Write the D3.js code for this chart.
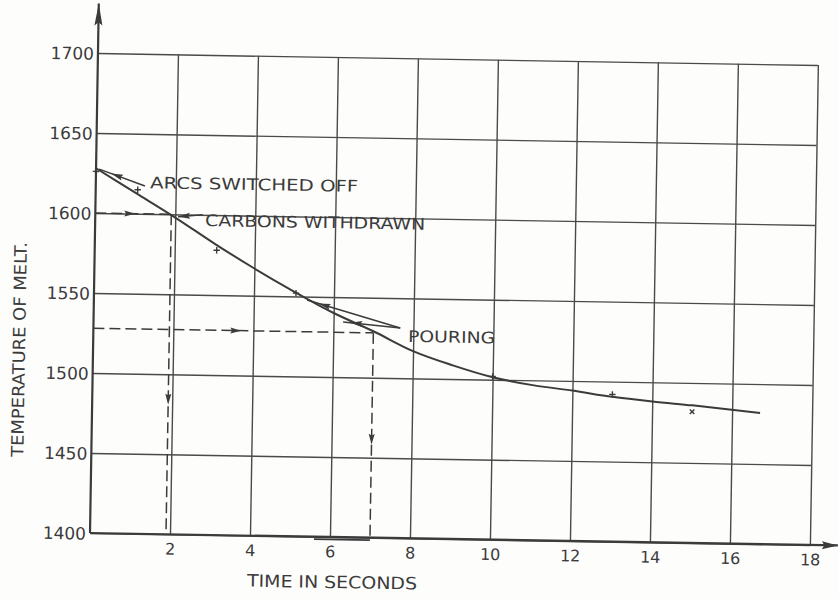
<!DOCTYPE html>
<html><head><meta charset="utf-8">
<script src="https://cdn.jsdelivr.net/npm/d3@7"></script>
<style>html,body{margin:0;padding:0;background:#fdfdfc;} svg{display:block}</style>
</head><body><svg id="c" width="839" height="599"></svg>
<script>
// ---- data ----
const curveTime = [0, 1, 2, 3, 4, 5, 6, 7, 8, 9, 10, 11, 12, 13, 14, 15, 16.7];
const curveTemp = [1628, 1613, 1598, 1582, 1567, 1553, 1540, 1529, 1517, 1508.5, 1501.5, 1497, 1494, 1490.5, 1488, 1486, 1482];
const obsTime = [0, 1.05, 3.05, 5.05, 10, 13, 15];
const obsTemp = [1626, 1615, 1578, 1552, 1502, 1492, 1482];
const obsMark = ["+", "+", "+", "+", "+", "+", "x"];
const xTicks = [2, 4, 6, 8, 10, 12, 14, 16, 18];
const yTicks = [1400, 1450, 1500, 1550, 1600, 1650, 1700];
const xTitle = "TIME IN SECONDS";
const yTitle = "TEMPERATURE OF MELT.";
const noteText = ["ARCS SWITCHED OFF", "CARBONS WITHDRAWN", "POURING"];
const noteTime = [1.36, 2.75, 7.87];
const noteTemp = [1616, 1593, 1522.7];
// dashed read-off guides: horizontal at temp up to time, then vertical down
const guideTemp = [1600, 1528];
const guideTime = [1.9, 7];
// annotation arrows
const arrowFromTime = [1.23, 2.69, 7.67, 7.67];
const arrowFromTemp = [1617.4, 1600, 1531.3, 1531.3];
const arrowToTime = [0.08, 2.07, 5.33, 6.24];
const arrowToTemp = [1627.5, 1598.5, 1547.9, 1534.5];
const arrowTipTime = [0.38, 2.07, 5.62, 6.42];

// ---- layout ----
const W = 720, H = 480;
const svg = d3.select("#c");
const ink = "#3b3b3b";
const g = svg.append("g").attr("transform", "translate(90,533) rotate(0.95)");
const x = d3.scaleLinear().domain([0, 18]).range([0, W]);
const y = d3.scaleLinear().domain([1400, 1700]).range([0, -H]);
const font = "DejaVu Sans, Verdana, sans-serif";

function head(px, py, ang, len, hw) {
  const c = Math.cos(ang), s = Math.sin(ang);
  const bx = px - len * c, by = py - len * s;
  const p = [[px, py], [bx - hw * s, by + hw * c], [bx + len*0.15*c, by + len*0.15*s], [bx + hw * s, by - hw * c]];
  g.append("path").attr("d", "M" + p.map(d => d.join(",")).join("L") + "Z").attr("fill", ink);
}

// grid via axes
const yAxis = d3.axisLeft(y).tickValues(yTicks).tickFormat(d3.format("d")).tickSize(-W).tickPadding(4);
const yG = g.append("g").call(yAxis);
yG.select(".domain").remove();
yG.selectAll(".tick line").attr("stroke", "#4a4a4a").attr("stroke-width", 1.4);
yG.selectAll(".tick text").attr("font-family", font).attr("font-size", 17).attr("fill", ink).attr("dy", "0.36em");

const xAxis = d3.axisBottom(x).tickValues(xTicks).tickSize(-H).tickPadding(9);
const xG = g.append("g").call(xAxis);
xG.select(".domain").remove();
xG.selectAll(".tick line").attr("stroke", "#4a4a4a").attr("stroke-width", 1.4);
xG.selectAll(".tick text").attr("font-family", font).attr("font-size", 16).attr("fill", ink);

// main axes with arrows
g.append("line").attr("x1", 0).attr("y1", 0).attr("x2", 0).attr("y2", y(1731)).attr("stroke", ink).attr("stroke-width", 2.2);
head(0, y(1731), -Math.PI / 2, 22, 4);
g.append("line").attr("x1", 0).attr("y1", 0).attr("x2", x(18.7)).attr("y2", 0).attr("stroke", ink).attr("stroke-width", 2.2);
head(x(18.7), 0, 0, 16, 4);
// slight heavier mark on axis near pouring interval
g.append("line").attr("x1", x(5.6)).attr("y1", 2.5).attr("x2", x(7)).attr("y2", 2.5).attr("stroke", ink).attr("stroke-width", 1.8);

// dashed guides
guideTemp.forEach((T, i) => {
  const t = guideTime[i];
  g.append("line").attr("x1", 0).attr("y1", y(T)).attr("x2", x(t)).attr("y2", y(T))
    .attr("stroke", ink).attr("stroke-width", 1.5).attr("stroke-dasharray", "11,5");
  g.append("line").attr("x1", x(t)).attr("y1", y(T)).attr("x2", x(t)).attr("y2", 0)
    .attr("stroke", ink).attr("stroke-width", 1.5).attr("stroke-dasharray", "11,5");
});
head(x(1.0), y(1600), 0, 11, 3);
head(x(1.9), y(1481), Math.PI / 2, 11, 3);
head(x(3.7), y(1528), 0, 11, 3);
head(x(7), y(1458), Math.PI / 2, 11, 3);

// annotation arrows
arrowFromTime.forEach((t0, i) => {
  const x1 = x(t0), y1 = y(arrowFromTemp[i]), x2 = x(arrowToTime[i]), y2 = y(arrowToTemp[i]);
  g.append("line").attr("x1", x1).attr("y1", y1).attr("x2", x2).attr("y2", y2).attr("stroke", ink).attr("stroke-width", 1.5);
  const ang = Math.atan2(y2 - y1, x2 - x1);
  const f = (x(arrowTipTime[i]) - x1) / (x2 - x1);
  head(x1 + f * (x2 - x1), y1 + f * (y2 - y1), ang, 12, 3);
});

// cooling curve
const line = d3.line().x((d, i) => x(curveTime[i])).y((d, i) => y(curveTemp[i])).curve(d3.curveMonotoneX);
g.append("path").attr("d", line(curveTemp)).attr("fill", "none").attr("stroke", ink).attr("stroke-width", 2);

// observed points
obsTime.forEach((t, i) => {
  const cx = x(t), cy = y(obsTemp[i]), r = 3.2;
  const m = g.append("g").attr("transform", `translate(${cx},${cy})${obsMark[i] === "x" ? " rotate(45)" : ""}`);
  m.append("path").attr("d", `M${-r},0H${r}M0,${-r}V${r}`).attr("stroke", ink).attr("stroke-width", 1.4);
});

// annotation text
const noteLen = [208, 220, 87];
noteText.forEach((s, i) => {
  g.append("text").attr("x", x(noteTime[i])).attr("y", y(noteTemp[i]))
    .attr("font-family", font).attr("font-size", 16).attr("fill", ink)
    .attr("textLength", noteLen[i]).attr("lengthAdjust", "spacingAndGlyphs").text(s);
});

// titles
g.append("text").attr("x", x(6.07)).attr("y", 51).attr("text-anchor", "middle")
  .attr("font-family", font).attr("font-size", 17).attr("fill", ink)
  .attr("textLength", 170).attr("lengthAdjust", "spacingAndGlyphs").text(xTitle);
g.append("text").attr("transform", `translate(-68,${y(1514)}) rotate(-90)`).attr("text-anchor", "middle")
  .attr("font-family", font).attr("font-size", 17).attr("fill", ink)
  .attr("textLength", 215).attr("lengthAdjust", "spacingAndGlyphs").text(yTitle);
</script></body></html>
